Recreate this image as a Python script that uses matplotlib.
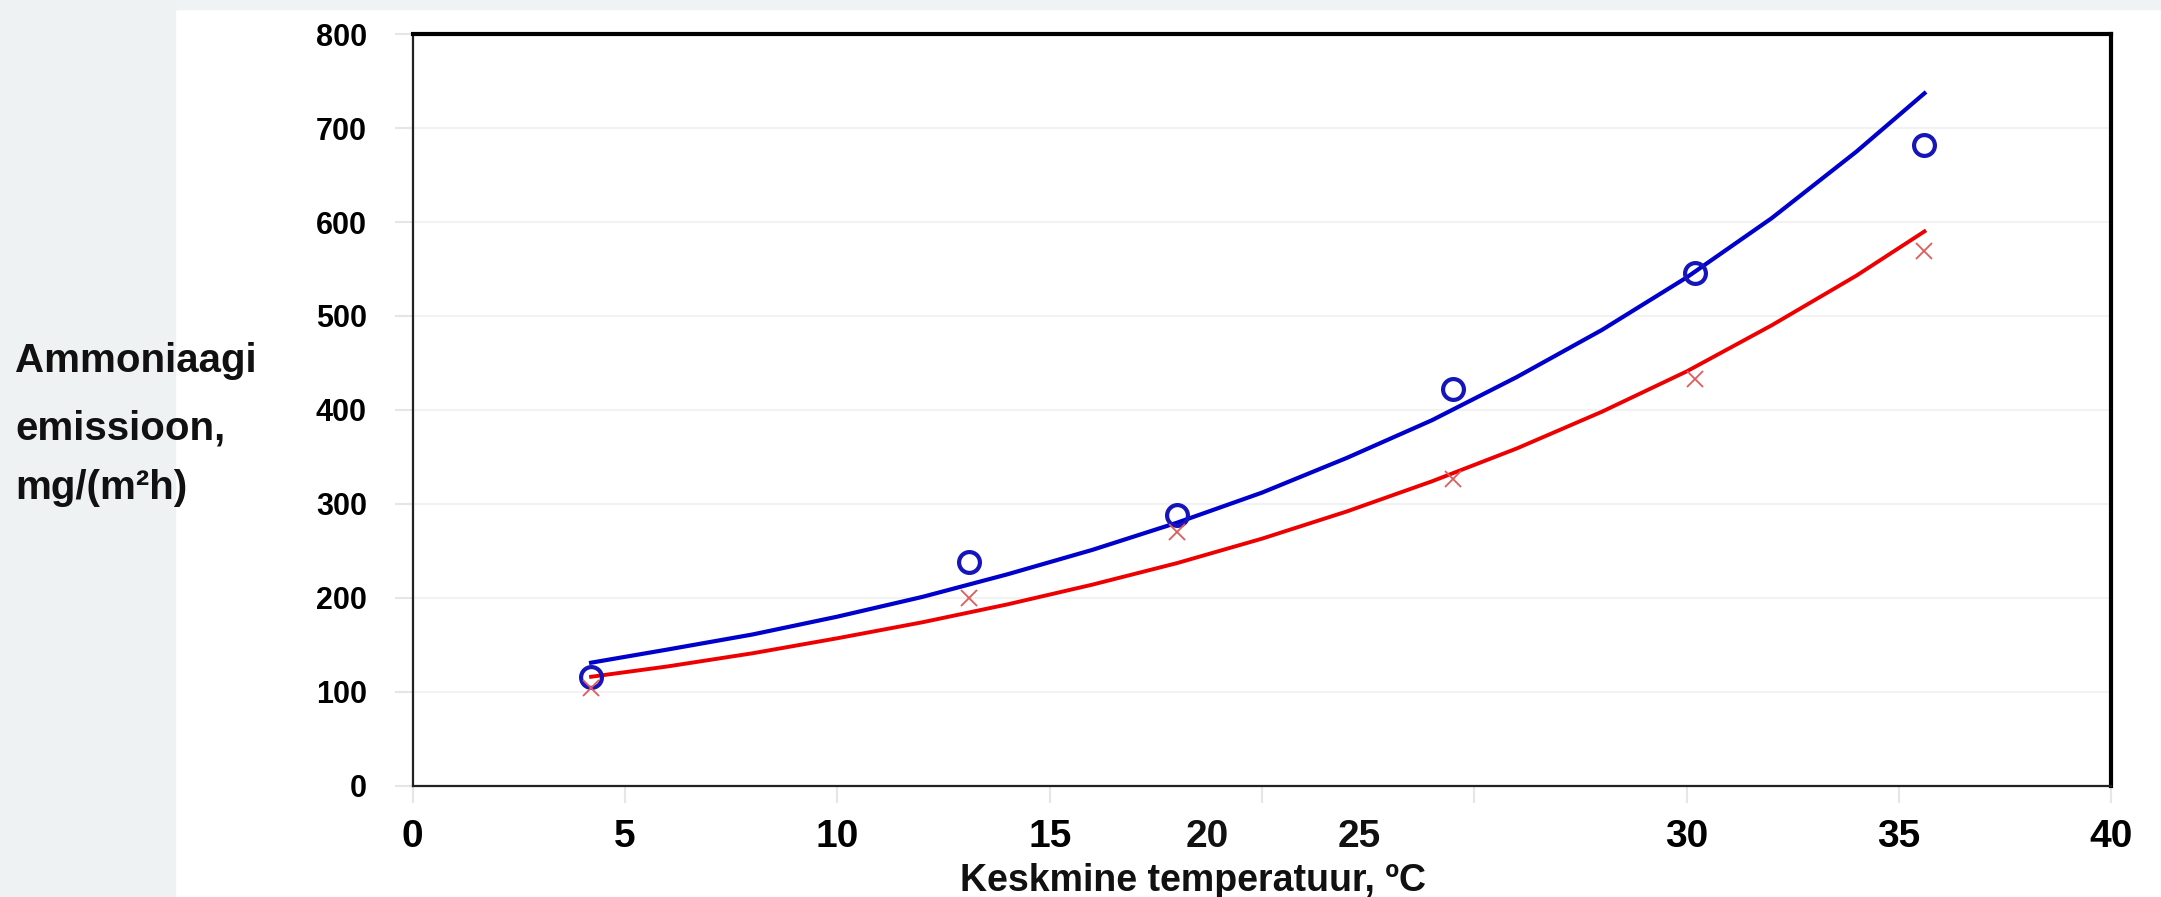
import numpy as np
import matplotlib
matplotlib.use("Agg")
import matplotlib.pyplot as plt
from matplotlib.patches import Rectangle
from matplotlib import font_manager

# mõõdetud punktid (loetud pildilt)
temp = [4.2, 13.1, 18.0, 24.5, 30.2, 35.6]
emis_o = [116, 238, 288, 422, 546, 682]   # sinised ringid
emis_x = [104, 200, 270, 326, 433, 569]   # punased ristid

# trendijooned (loetud pildilt)
fit_t = [4.2, 6, 8, 10, 12, 14, 16, 18, 20, 22, 24, 26, 28, 30, 32, 34, 35.6]
fit_blue = [131, 145, 161, 180, 201, 225, 251, 280, 312, 349, 389, 435, 485, 541, 604, 675, 737]
fit_red = [116, 127, 141, 157, 174, 193, 214, 237, 263, 292, 324, 359, 398, 441, 490, 543, 590]

# telgede sildid
x_ticks = [0, 5, 10, 15, 20, 25, 30, 35, 40]
x_labels = ['0', '5', '10', '15', '', '', '30', '35', '40']
shifted = [(18.7, '20'), (22.3, '25')]   # need kaks silti on pildil nihkes
y_ticks = [0, 100, 200, 300, 400, 500, 600, 700, 800]

names = {f.name for f in font_manager.fontManager.ttflist}
font = 'Liberation Sans' if 'Liberation Sans' in names else 'DejaVu Sans'
plt.rcParams['font.family'] = font

fig = plt.figure(figsize=(21.61, 8.97), dpi=100)
fig.patches.append(Rectangle((0, 0), 0.081, 1, transform=fig.transFigure,
                             color='#eef2f2', zorder=-10))
fig.patches.append(Rectangle((0.081, 0.99), 0.919, 0.01, transform=fig.transFigure,
                             color='#f0f3f3', zorder=-10))

ax = fig.add_axes([0.191, 0.124, 0.786, 0.838])

ax.plot(fit_t, fit_blue, color='#0000cc', lw=3, zorder=3, solid_joinstyle='round')
ax.plot(fit_t, fit_red, color='#ee0000', lw=2.8, zorder=3, solid_joinstyle='round')
lo, = ax.plot(temp, emis_o, 'o', ms=15, mfc='none', mec='#1515bb', mew=3, zorder=4)
lx, = ax.plot(temp, emis_x, 'x', ms=12, color='#e05a5a', mew=1.3, zorder=4)
clip = Rectangle((0, 0), 36.05, 800, transform=ax.transData)
lo.set_clip_path(clip)
lx.set_clip_path(clip)

ax.set_xlim(0, 40)
ax.set_ylim(0, 800)

ax.set_xticks(x_ticks)
ax.set_xticklabels(x_labels)
ax.tick_params(axis='x', length=12, color='#e6e6e6', width=1.5, pad=12, labelsize=28)
for lab in ax.get_xticklabels():
    lab.set_fontweight('bold')
for xv, txt in shifted:
    ax.text(xv, -0.044, txt, transform=ax.get_xaxis_transform(), ha='center', va='top',
            fontsize=28, fontweight='bold', color='#111111')

ax.set_yticks(y_ticks)
ax.tick_params(axis='y', length=13, color='#e6e6e6', width=1.5, pad=20, labelsize=22)
for lab in ax.get_yticklabels():
    lab.set_fontweight('bold')
ax.grid(axis='y', color='#f2f2f2', lw=1.5)
ax.set_axisbelow(True)

for s in ['top', 'right']:
    ax.spines[s].set_linewidth(3)
for s in ['left', 'bottom']:
    ax.spines[s].set_linewidth(1.6)
    ax.spines[s].set_color('#222222')

fig.text(0.552, 0.018, 'Keskmine temperatuur, ºC', ha='center', va='center',
         fontsize=27, fontweight='bold', color='#111111')
for txt, yy in [('Ammoniaagi', 361), ('emissioon,', 428), ('mg/(m²h)', 488)]:
    fig.text(0.007, 1 - yy / 897, txt, ha='left', va='center',
             fontsize=29, fontweight='bold', color='#111111')

fig.savefig('out.png', dpi=100)
